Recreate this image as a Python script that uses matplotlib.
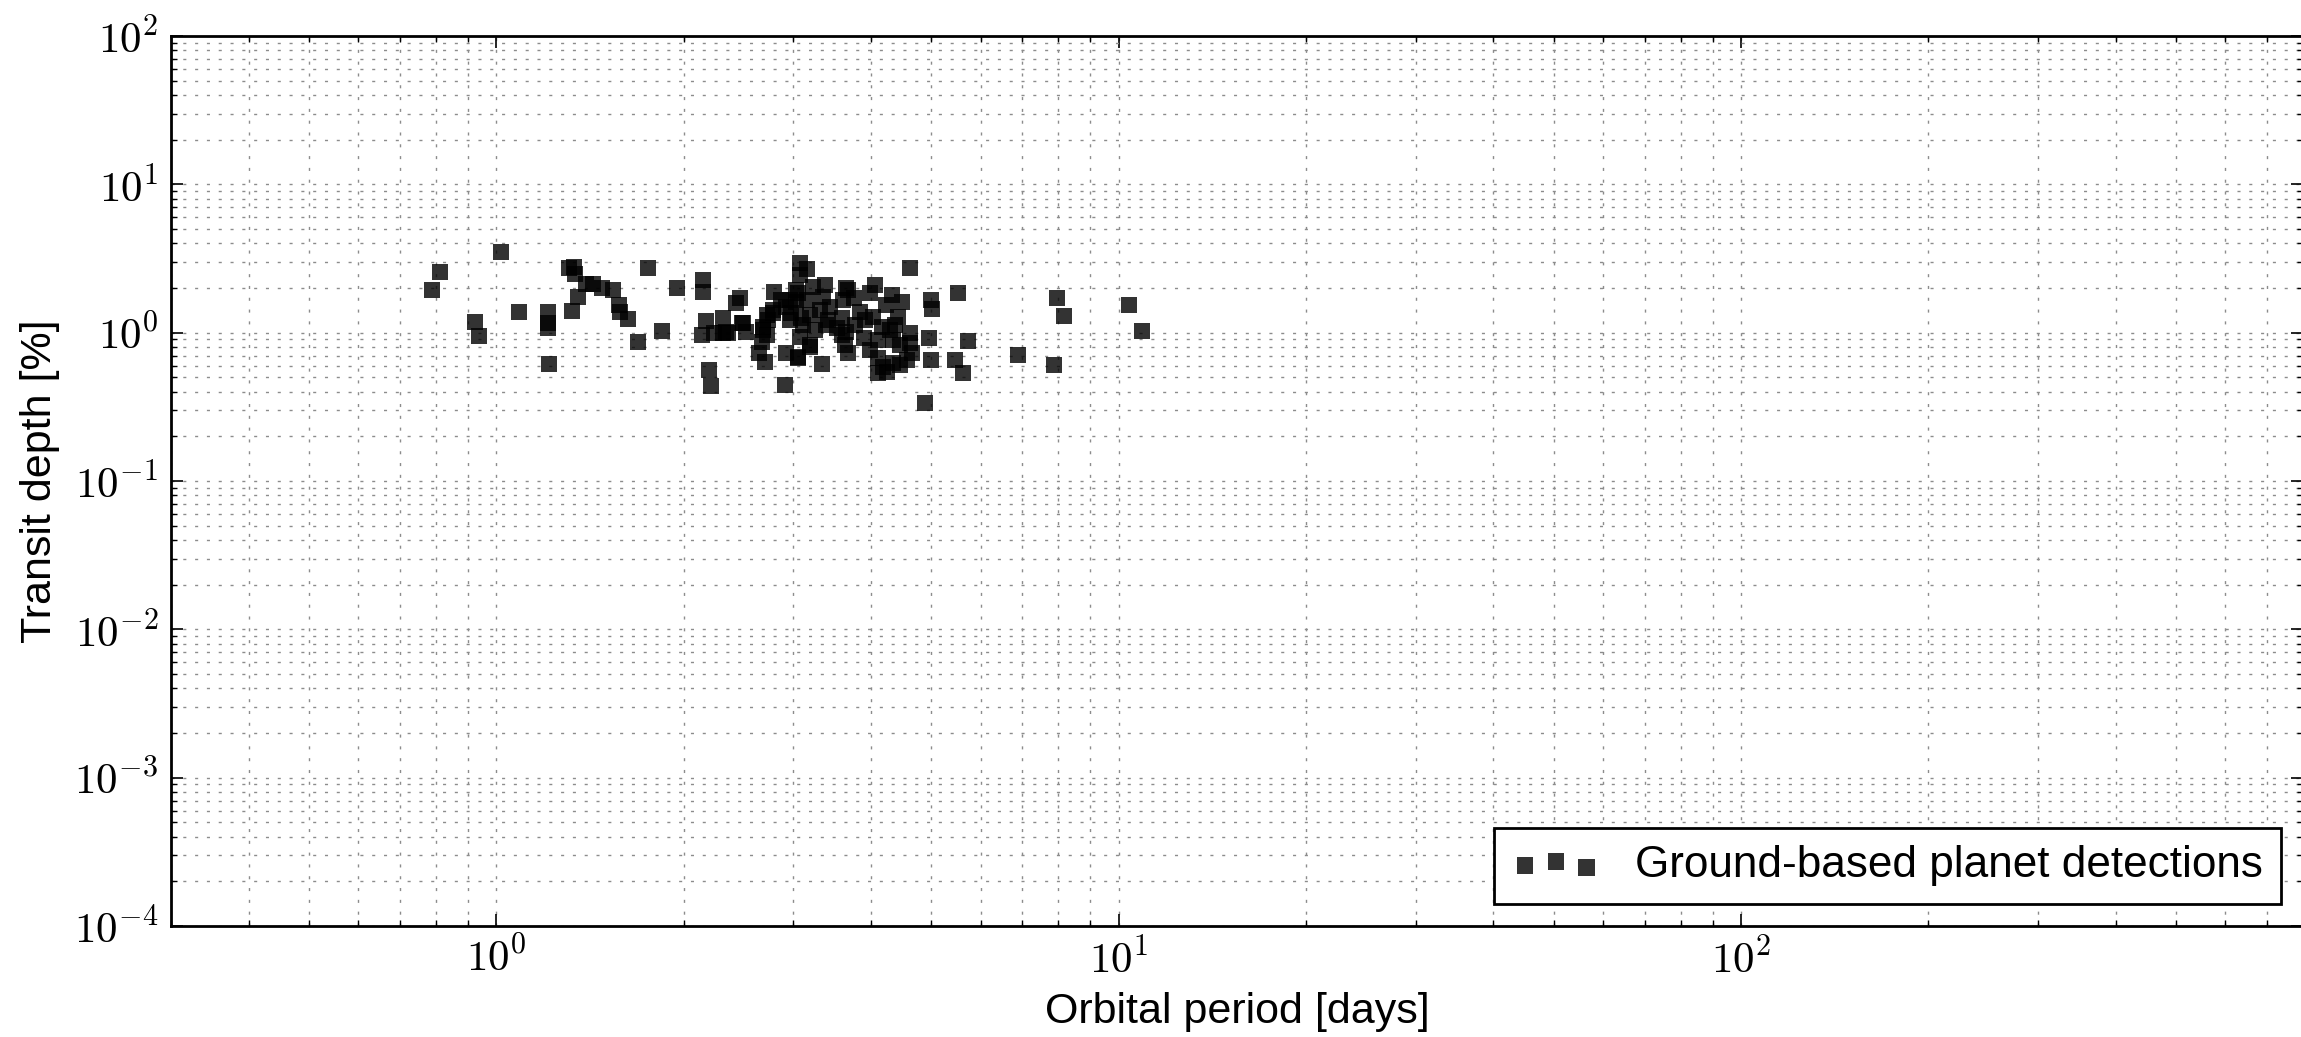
import numpy as np
import matplotlib
matplotlib.use("Agg")
import matplotlib.pyplot as plt
from matplotlib.ticker import LogLocator, FuncFormatter, NullFormatter

# Ground-based transiting planets: orbital period [days] and transit depth [%]
period_days = [
    1.016, 0.812, 0.787, 0.924, 0.939, 1.089, 1.211, 1.212, 1.212, 1.214,
    1.307, 1.335, 1.336, 1.394, 1.355, 1.325, 1.429, 1.48, 1.539, 1.573,
    1.578, 1.627, 1.75, 1.953, 1.845, 1.688, 2.15, 2.15, 2.175, 2.14,
    2.24, 2.31, 2.31, 2.20, 2.215, 3.07, 3.16, 3.08, 2.466, 2.43,
    2.34, 2.48, 2.52, 2.79, 2.87, 2.72, 2.78, 2.68, 2.72, 2.67,
    2.64, 2.70, 2.92, 2.91, 3.05, 3.07, 3.19, 3.34, 3.05, 3.03,
    3.23, 3.37, 3.35, 3.09, 3.19, 3.11, 2.92, 2.98, 3.43, 3.52,
    3.59, 3.65, 3.63, 3.39, 4.62, 5.52, 4.99, 5.02, 4.96, 5.73,
    5.00, 5.46, 5.63, 4.88, 4.06, 3.98, 3.67, 3.61, 3.75, 4.32,
    4.48, 4.42, 3.91, 4.16, 3.65, 3.89, 4.11, 4.34, 4.62, 4.62,
    4.65, 3.67, 4.11, 4.34, 4.11, 4.24, 4.45, 4.57, 6.90, 7.88,
    7.95, 8.18, 10.37, 10.9, 2.36, 2.49, 2.78, 2.73, 2.68, 3.03,
    3.19, 3.05, 4.18, 2.96, 3.25, 3.41, 3.59, 3.31, 3.16, 2.96,
    3.77, 3.84, 4.29, 4.45, 3.98, 4.22, 4.03, 4.37,
]
depth_pct = [
    3.48, 2.55, 1.93, 1.18, 0.949, 1.37, 1.37, 1.17, 1.08, 0.611,
    2.71, 2.75, 2.47, 2.12, 1.74, 1.40, 2.14, 2.01, 1.94, 1.535,
    1.37, 1.235, 2.74, 2.01, 1.03, 0.868, 2.27, 1.87, 1.20, 0.963,
    0.989, 1.25, 0.989, 0.56, 0.438, 2.93, 2.69, 2.45, 1.72, 1.58,
    1.01, 1.17, 1.01, 1.89, 1.66, 1.31, 1.35, 1.10, 0.963, 0.868,
    0.725, 0.63, 0.725, 0.443, 0.671, 0.938, 0.825, 0.614, 1.84, 1.62,
    2.04, 2.09, 1.75, 1.25, 1.31, 1.125, 1.50, 1.35, 1.50, 1.07,
    0.963, 1.99, 0.825, 1.125, 2.74, 1.84, 1.66, 1.44, 0.915, 0.878,
    0.653, 0.653, 0.531, 0.334, 2.09, 1.84, 1.94, 1.66, 1.70, 1.79,
    1.62, 1.28, 1.22, 1.10, 1.01, 0.915, 0.891, 0.891, 0.989, 0.847,
    0.725, 0.725, 0.671, 0.621, 0.531, 0.545, 0.605, 0.653, 0.706, 0.605,
    1.72, 1.29, 1.53, 1.03, 0.989, 1.155, 1.42, 1.22, 1.04, 1.94,
    0.80, 0.688, 0.589, 1.22, 1.04, 1.22, 1.25, 1.42, 1.66, 1.66,
    1.13, 1.38, 1.04, 0.825, 0.76, 1.53, 1.28, 1.125,
]
series_label = "Ground-based planet detections"
x_label = "Orbital period [days]"
y_label = "Transit depth [%]"

plt.rcParams["mathtext.fontset"] = "cm"
plt.rcParams["font.family"] = ["Liberation Sans", "DejaVu Sans"]

W, H = 2301, 1037
fig = plt.figure(figsize=(W / 100, H / 100), dpi=100)
fig.patch.set_facecolor("white")
ax = fig.add_axes([171 / W, 111 / H, 2132 / W, 890 / H])

sc = ax.scatter(period_days, depth_pct, marker="s", s=12 ** 2, c="k",
                alpha=0.8, linewidths=0, label=series_label, zorder=3)

ax.set_xscale("log")
ax.set_yscale("log")
ax.set_xlim(0.3, 800)
ax.set_ylim(1e-4, 1e2)

decade_fmt = FuncFormatter(lambda v, pos: r"$10^{%d}$" % int(round(np.log10(v))))
for axis in (ax.xaxis, ax.yaxis):
    axis.set_major_locator(LogLocator(base=10, numticks=20))
    axis.set_minor_locator(LogLocator(base=10, subs=np.arange(2, 10), numticks=20))
    axis.set_major_formatter(decade_fmt)
    axis.set_minor_formatter(NullFormatter())

ax.tick_params(which="both", direction="in", top=True, right=True, color="k")
ax.tick_params(which="major", length=8.6, width=1.2, pad=9, labelsize=31)
ax.tick_params(which="minor", length=4.3, width=1.0)

ax.set_axisbelow(True)
ax.grid(True, which="both", color="0.55", linestyle=(0, (2.2, 6.3)), linewidth=1.0)

for sp in ax.spines.values():
    sp.set_linewidth(2.0)
    sp.set_color("k")

ax.set_xlabel(x_label, fontsize=31, labelpad=8)
ax.set_ylabel(y_label, fontsize=31, labelpad=10)

leg = ax.legend(loc="lower right", scatterpoints=3,
                scatteryoffsets=[0.375, 0.5, 0.3125], fontsize=31.8,
                frameon=True, fancybox=False, framealpha=1.0,
                borderpad=0.4, handlelength=2.0, handletextpad=0.8,
                borderaxespad=0.5)
leg.get_frame().set_edgecolor("k")
leg.get_frame().set_linewidth(2.0)

fig.savefig("out.png", dpi=100, facecolor="white")
